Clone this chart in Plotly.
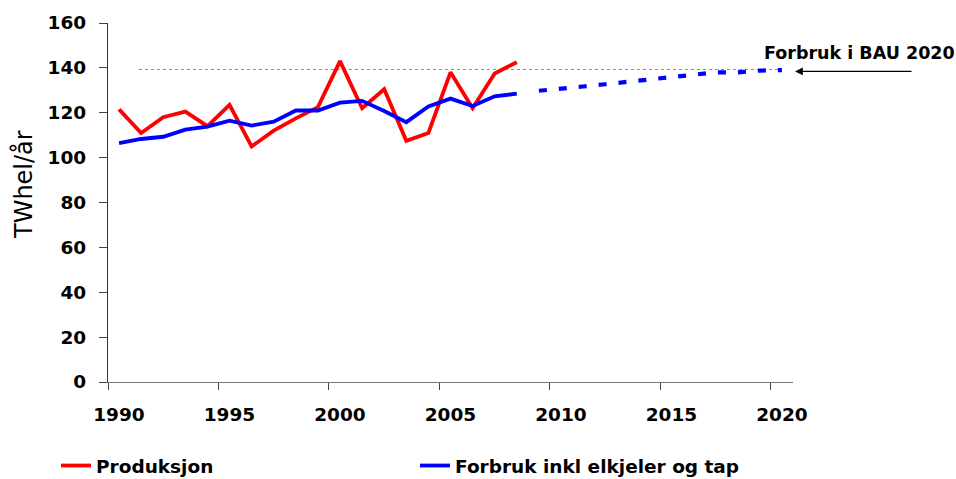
import plotly.graph_objects as go

# ---- data ----
years_hist = list(range(1990, 2009))
produksjon = [121.5, 111.0, 118.0, 120.5, 114.0, 123.5, 105.0, 112.0, 117.5, 122.5,
              143.0, 122.0, 130.5, 107.5, 111.0, 138.0, 122.0, 137.5, 142.5]
forbruk = [106.5, 108.3, 109.3, 112.5, 113.8, 116.5, 114.3, 116.0, 121.0, 121.0,
           124.5, 125.3, 120.8, 115.8, 122.8, 126.3, 123.0, 127.3, 128.5]
years_proj = list(range(2009, 2021))
forbruk_proj = [129.8, 130.6, 131.7, 132.7, 133.8, 134.8, 135.9, 137.1, 138.0, 138.0, 138.8, 139.0]
bau_years = [1991, 2020]
bau_level = [139.3, 139.3]
x_ticks = [1990, 1995, 2000, 2005, 2010, 2015, 2020]
y_ticks = [0, 20, 40, 60, 80, 100, 120, 140, 160]

# points sit in the middle of each year interval
offset = 0.5
xh = [y + offset for y in years_hist]
xp = [y + offset for y in years_proj]
xb = [bau_years[0] + 0.4, bau_years[1] + offset]

FONT = "DejaVu Sans"
bold = dict(family=FONT, size=18.5, color="black", weight="bold")

fig = go.Figure()
fig.add_trace(go.Scatter(x=xb, y=bau_level, mode="lines", showlegend=False,
                         line=dict(color="#8a8a8a", width=1, dash="dot"), hoverinfo="skip"))
fig.add_trace(go.Scatter(x=xh, y=produksjon, mode="lines", name="Produksjon",
                         line=dict(color="#FF0000", width=3.8)))
fig.add_trace(go.Scatter(x=xh, y=forbruk, mode="lines", name="Forbruk inkl elkjeler og tap",
                         line=dict(color="#0000FF", width=3.8)))
fig.add_trace(go.Scatter(x=xp, y=forbruk_proj, mode="lines", showlegend=False,
                         line=dict(color="#0000FF", width=4.2, dash="8px,12px")))

W, H = 956, 479
L, R, T, B = 108, 163, 23, 97
pw = W - L - R
ph = H - T - B

def px_x(p):
    return (p - L) / pw

def px_y(p):
    return (H - B - p) / ph

fig.update_layout(
    width=W, height=H,
    margin=dict(l=L, r=R, t=T, b=B, autoexpand=False),
    paper_bgcolor="white", plot_bgcolor="white",
    font=dict(family=FONT, color="black"),
    showlegend=True,
    legend=dict(orientation="h", x=px_x(56), y=px_y(466), xanchor="left", yanchor="middle",
                font=bold, entrywidth=314, bgcolor="rgba(0,0,0,0)"),
    xaxis=dict(range=[1990, 2021], tickvals=x_ticks, ticktext=[str(v) for v in x_ticks],
               automargin=False,
               showgrid=False, zeroline=False, showline=True, linecolor="#777777", linewidth=1.2,
               ticks="outside", ticklen=7, tickcolor="#444444", tickwidth=1.2,
               tickfont=bold, ticklabelshift=11, ticklabelstandoff=9),
    yaxis=dict(range=[0, 160], tickvals=y_ticks, showgrid=False, zeroline=False,
               automargin=False,
               showline=True, linecolor="#333333", linewidth=1.2,
               ticks="outside", ticklen=8, tickcolor="#444444", tickwidth=1.2,
               tickfont=bold, ticklabelstandoff=9),
    annotations=[
        dict(text="TWhel/år", textangle=-90, xref="paper", yref="paper",
             x=px_x(24), y=px_y(185), xanchor="center", yanchor="middle", showarrow=False,
             font=dict(family=FONT, size=24, color="black")),
        dict(text="Forbruk i BAU 2020", xref="paper", yref="paper",
             x=px_x(859), y=px_y(53), xanchor="center", yanchor="middle", showarrow=False,
             font=dict(family=FONT, size=17.5, color="black", weight="bold")),
        dict(text="", xref="paper", yref="y", x=px_x(795), y=138.4,
             showarrow=True, ax=118, ay=0, arrowhead=2, arrowsize=1.3, arrowwidth=1.2,
             arrowcolor="black"),
    ],
)

fig.write_html("out.html", config={"displayModeBar": False},
               post_script="document.body.style.margin='0';")
